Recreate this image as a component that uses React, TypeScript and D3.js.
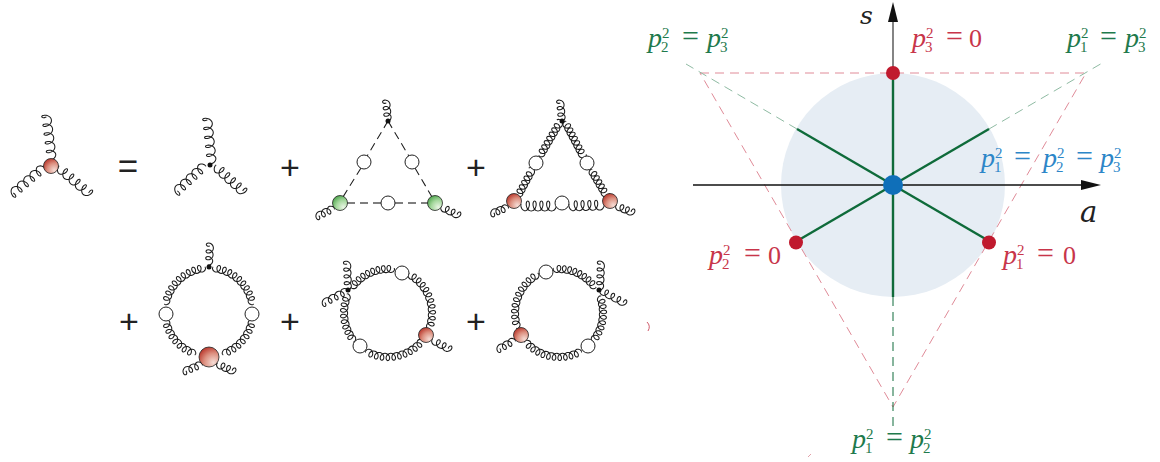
import React from "react";
import * as d3 from "d3";

type P = [number, number];

// ---------- left: diagrams ----------
// straight gluons: x0, y0, x1, y1, loops, amplitude
const straightGluons: number[][] = [
  [52, 160, 46, 114, 5.25, 4.6], [44, 167, 11, 195, 5.25, 4.6], [58, 167, 91, 195, 5.25, 4.6],
  [212, 164, 207, 117, 5.25, 4.6], [205, 165, 175, 193, 5.25, 4.6], [215, 166, 245, 193, 5.25, 4.6],
  [388, 121, 386, 100, 3.25, 3.6], [334, 208, 316, 217, 3.25, 3.6], [441, 207, 460, 216, 3.25, 3.6],
  [562, 121, 560, 100, 3.25, 3.6], [508, 207, 491, 214, 3.25, 3.6], [616, 206, 634, 213, 3.25, 3.6],
  [540, 156, 560, 122, 8, 3.6], [518, 196, 532, 170, 6, 3.6],
  [565, 122, 583, 156, 8, 3.6], [591, 170, 606, 195, 6, 3.6],
  [521, 206, 555, 206, 5, 5], [569, 206, 603, 205, 5, 5],
  [209, 265, 210, 243, 3.25, 3.6], [202, 364, 183, 372, 3.25, 3.6], [217, 364, 235, 372, 3.25, 3.6],
  [348, 290, 347, 261, 4.25, 3.6], [348, 290, 322, 304, 4.25, 3.6],
  [432, 340, 451, 350, 3.25, 3.6],
  [600, 290, 601, 261, 4.25, 3.6], [600, 290, 626, 304, 4.25, 3.6],
  [515, 340, 497, 350, 3.25, 3.6],
];
// ring gluons: cx, cy, radius, from degrees, to degrees, loops, amplitude
const ringGluons: number[][] = [
  [209, 312, 44, -85, -10, 10, 3.6], [209, 312, 44, -95, -170, 10, 3.6],
  [209, 312, 44, 10, 72, 8, 3.6], [209, 312, 44, 170, 108, 8, 3.6],
  [388, 313, 44, -145, -82, 9, 3.6], [388, 313, 44, -62, 22, 11, 3.6],
  [388, 313, 44, 38, 120, 11, 3.6], [388, 313, 44, 140, 205, 9, 3.6],
  [559, 313, 44, -35, -97, 9, 3.6], [559, 313, 44, -118, -200, 11, 3.6],
  [559, 313, 44, 140, 60, 11, 3.6], [559, 313, 44, 40, -22, 9, 3.6],
];
// dashed scalar lines: x0, y0, x1, y1
const scalarLines: number[][] = [
  [388, 121, 366, 158], [361, 168, 343, 197], [388, 121, 410, 158], [415, 168, 432, 197],
];
const scalarGrey: number[][] = [[347, 203, 381, 203], [395, 203, 428, 203]];
// blobs: x, y, radius
const blobsRed: number[][] = [[51, 166, 7.5], [514, 201, 7.5], [610, 201, 7.5], [209, 357, 10], [426, 335, 7.5], [521, 335, 7.5]];
const blobsGreen: number[][] = [[340, 203, 7.5], [435, 203, 7.5]];
const blobsWhite: number[][] = [
  [364, 162, 7], [412, 162, 7], [388, 203, 7], [536, 163, 7], [587, 163, 7], [562, 203, 7],
  [166, 314, 7], [252, 314, 7], [402, 273, 7], [360, 346, 7], [546, 272, 7], [588, 346, 7],
];
const dots: P[] = [[210, 165], [388, 121], [562, 121], [209, 267], [348, 290], [599, 290]];
const plusSigns: P[] = [[290, 167], [476, 167], [129, 321], [290, 321], [476, 321]];

// ---------- right: plane ----------
const centre: P = [893, 185];
const circleRadius = 112;
const symmetryEnds: P[] = [[893, 73], [989, 129], [989, 241], [893, 297], [797, 241], [797, 129]];
const redPoints: P[] = [[893, 73], [796, 242.5], [989, 242.5]];
const triangle: P[] = [[700, 73], [1086, 73], [893, 407]];
const greenDashes: P[][] = [[[989, 129], [1104, 62]], [[797, 129], [686, 64]], [[893, 297], [893, 429]]];
const GREEN = "#0f6b3a", RED = "#c01a2e", BLUE = "#0f6fb9";

// math labels: x of each chunk, y baseline
type Chunk = { k: "p"; x: number; sub: string } | { k: "eq"; x: number } | { k: "zero"; x: number };
const labels: { c: string; y: number; parts: Chunk[] }[] = [
  { c: "#1f7a4d", y: 47, parts: [{ k: "p", x: 648, sub: "2" }, { k: "eq", x: 683 }, { k: "p", x: 707, sub: "3" }] },
  { c: "#1f7a4d", y: 47, parts: [{ k: "p", x: 1067, sub: "1" }, { k: "eq", x: 1101 }, { k: "p", x: 1125, sub: "3" }] },
  { c: "#1f7a4d", y: 448, parts: [{ k: "p", x: 852, sub: "1" }, { k: "eq", x: 887 }, { k: "p", x: 910, sub: "2" }] },
  { c: "#c8354a", y: 47, parts: [{ k: "p", x: 912, sub: "3" }, { k: "eq", x: 947 }, { k: "zero", x: 969 }] },
  { c: "#c8354a", y: 264, parts: [{ k: "p", x: 709, sub: "2" }, { k: "eq", x: 745 }, { k: "zero", x: 768 }] },
  { c: "#c8354a", y: 264, parts: [{ k: "p", x: 1003, sub: "1" }, { k: "eq", x: 1038 }, { k: "zero", x: 1063 }] },
  { c: "#2d86c8", y: 167, parts: [{ k: "p", x: 981, sub: "1" }, { k: "eq", x: 1015 }, { k: "p", x: 1043, sub: "2" }, { k: "eq", x: 1077 }, { k: "p", x: 1100, sub: "3" }] },
];

const lineGen = d3.line<P>().curve(d3.curveCatmullRom);

function coil(center: (t: number) => { p: P; n: P; tan: P }, loops: number, amp: number, both: boolean) {
  const n = Math.round(loops * 16);
  const pts: P[] = d3.range(n + 1).map((i) => {
    const t = i / n;
    const phi = t * loops * 2 * Math.PI;
    const c = center(t);
    const edge = both ? Math.min(t, 1 - t) : t;
    const env = Math.min(1, edge * loops * 1.5 + 0.2);
    const along = -Math.min(amp * 0.9, 3.1) * Math.sin(phi) * env;
    const perp = -amp * Math.cos(phi) * env;
    return [c.p[0] + c.tan[0] * along + c.n[0] * perp, c.p[1] + c.tan[1] * along + c.n[1] * perp];
  });
  return lineGen(pts) as string;
}
function straight([x0, y0, x1, y1, loops, amp]: number[]) {
  const L = Math.hypot(x1 - x0, y1 - y0);
  const tan: P = [(x1 - x0) / L, (y1 - y0) / L];
  const nrm: P = [-tan[1], tan[0]];
  return coil((t) => ({ p: [x0 + (x1 - x0) * t, y0 + (y1 - y0) * t], n: nrm, tan }), loops, amp, false);
}
function ring([cx, cy, R, a0, a1, loops, amp]: number[]) {
  const s = a1 > a0 ? 1 : -1;
  return coil((t) => {
    const a = ((a0 + (a1 - a0) * t) * Math.PI) / 180;
    const n: P = [-Math.cos(a), -Math.sin(a)];
    return { p: [cx + R * Math.cos(a), cy + R * Math.sin(a)], n, tan: [-Math.sin(a) * s, Math.cos(a) * s] };
  }, loops, amp, true);
}

const MATH = "'Liberation Serif', serif";
const VAR = "'DejaVu Serif', serif";

function Label({ c, y, parts }: (typeof labels)[number]) {
  return (
    <g fill={c}>
      {parts.map((b, i) => {
        if (b.k === "p")
          return (
            <g key={i}>
              <text x={b.x} y={y} fontFamily={MATH} fontStyle="italic" fontSize={28}>p</text>
              <text x={b.x + 14} y={y - 9} fontFamily={MATH} fontSize={15}>2</text>
              <text x={b.x + 13} y={y + 5} fontFamily={MATH} fontSize={15}>{b.sub}</text>
            </g>
          );
        if (b.k === "eq")
          return <text key={i} x={b.x - 1} y={y - 1} fontFamily={MATH} fontSize={30}>=</text>;
        return <text key={i} x={b.x} y={y} fontFamily={MATH} fontSize={26}>0</text>;
      })}
    </g>
  );
}

export default function App() {
  const triPath = d3.line<P>()(triangle) + "Z";
  return (
    <svg width={1160} height={462} style={{ position: "absolute", left: 0, top: 0, background: "#fff" }}>
      <defs>
        <radialGradient id="gr" cx="0.72" cy="0.78" r="0.85">
          <stop offset="0" stopColor="#f6ddd6" />
          <stop offset="0.55" stopColor="#dc8f7f" />
          <stop offset="1" stopColor="#b8352a" />
        </radialGradient>
        <radialGradient id="gg" cx="0.72" cy="0.78" r="0.85">
          <stop offset="0" stopColor="#e9f5e4" />
          <stop offset="0.55" stopColor="#a3d79b" />
          <stop offset="1" stopColor="#4ea54d" />
        </radialGradient>
      </defs>

      {/* diagrams */}
      <g fill="none" stroke="#1c1c1c" strokeWidth={1.05}>
        {straightGluons.map((g, i) => <path key={i} d={straight(g)} />)}
        {ringGluons.map((g, i) => <path key={i} d={ring(g)} />)}
        {scalarLines.map((s, i) => <line key={i} x1={s[0]} y1={s[1]} x2={s[2]} y2={s[3]} strokeDasharray="8 5" />)}
        {scalarGrey.map((s, i) => <line key={i} x1={s[0]} y1={s[1]} x2={s[2]} y2={s[3]} stroke="#555" strokeWidth={1.3} strokeDasharray="8 5" />)}
      </g>
      {blobsRed.map((b, i) => <circle key={i} cx={b[0]} cy={b[1]} r={b[2]} fill="url(#gr)" stroke="#222" strokeWidth={0.8} />)}
      {blobsGreen.map((b, i) => <circle key={i} cx={b[0]} cy={b[1]} r={b[2]} fill="url(#gg)" stroke="#222" strokeWidth={0.8} />)}
      {blobsWhite.map((b, i) => <circle key={i} cx={b[0]} cy={b[1]} r={b[2]} fill="#fff" stroke="#222" strokeWidth={1} />)}
      {dots.map((d, i) => <circle key={i} cx={d[0]} cy={d[1]} r={2.5} fill="#111" />)}
      {plusSigns.map((d, i) => (
        <text key={i} x={d[0]} y={d[1] + 12} textAnchor="middle" fontFamily="'Liberation Sans', sans-serif" fontSize={34} fill="#222">+</text>
      ))}
      <text x={128} y={178} textAnchor="middle" fontFamily="'Liberation Sans', sans-serif" fontSize={35} fill="#222">=</text>

      {/* stray marks */}
      <path d="M647 322Q651 326 648 331" fill="none" stroke="#d05a6a" strokeWidth={1} />
      <path d="M808 457L811 454" fill="none" stroke="#e2a0a8" strokeWidth={1} />

      {/* plane */}
      <circle cx={centre[0]} cy={centre[1]} r={circleRadius} fill="#e6edf4" />
      <path d={triPath} fill="none" stroke="#e08b98" strokeWidth={1} strokeDasharray="9 6" />
      {greenDashes.map((g, i) => (
        <line key={i} x1={g[0][0]} y1={g[0][1]} x2={g[1][0]} y2={g[1][1]}
          stroke={i === 2 ? GREEN : "#8fbba3"} strokeWidth={1} strokeDasharray="9 6" />
      ))}
      <line x1={893} y1={73} x2={893} y2={20} stroke="#333" strokeWidth={1.2} />
      <line x1={693} y1={185} x2={1083} y2={185} stroke="#111" strokeWidth={1.4} />
      <path d="M893 2L898 22L888 22Z" fill="#111" />
      <path d="M1101 185L1081 180L1081 190Z" fill="#111" />
      {symmetryEnds.map((e, i) => (
        <line key={i} x1={centre[0]} y1={centre[1]} x2={e[0]} y2={e[1]} stroke={GREEN} strokeWidth={2.4} />
      ))}
      {redPoints.map((p, i) => <circle key={i} cx={p[0]} cy={p[1]} r={7} fill={RED} />)}
      <circle cx={centre[0]} cy={centre[1]} r={10} fill={BLUE} />

      <text x={860} y={24} fontFamily={VAR} fontStyle="italic" fontSize={25} fill="#222">s</text>
      <text x={1080} y={222} fontFamily={VAR} fontStyle="italic" fontSize={29} fill="#222">a</text>
      {labels.map((l, i) => <Label key={i} {...l} />)}
    </svg>
  );
}
